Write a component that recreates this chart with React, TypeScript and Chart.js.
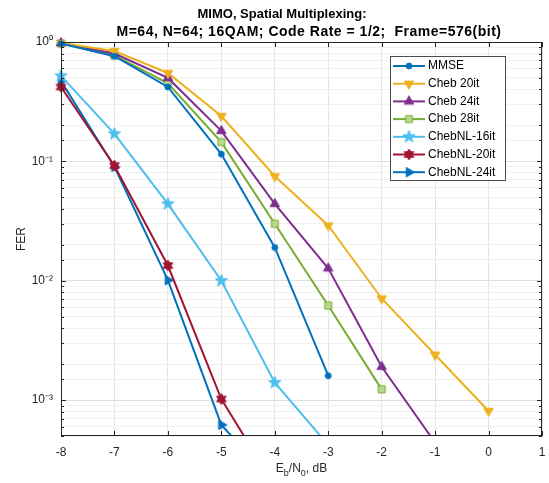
import React, { useEffect, useRef } from 'react';
import { Chart, registerables } from 'chart.js';

Chart.register(...registerables);

// ---------- data ----------
const ebn0 = [-8, -7, -6, -5, -4, -3, -2, -1, 0];
const xTicks = [-8, -7, -6, -5, -4, -3, -2, -1, 0, 1];

const mmse = [0.97, 0.76, 0.42, 0.115, 0.019, 0.0016];
const cheb20 = [0.98, 0.84, 0.55, 0.24, 0.075, 0.029, 0.0071, 0.0024, 0.00081];
const cheb24 = [0.98, 0.8, 0.5, 0.18, 0.044, 0.0127, 0.0019, 0.00044];
const cheb28 = [0.97, 0.77, 0.45, 0.145, 0.03, 0.0062, 0.00123];
const chebNL16 = [0.52, 0.17, 0.044, 0.01, 0.0014, 0.00042];
const chebNL20 = [0.42, 0.092, 0.0134, 0.00102, 0.00019];
const chebNL24 = [0.47, 0.09, 0.0101, 0.00062, 0.0002];

const seriesNames = ['MMSE', 'Cheb 20it', 'Cheb 24it', 'Cheb 28it', 'ChebNL-16it', 'ChebNL-20it', 'ChebNL-24it'];
const seriesValues = [mmse, cheb20, cheb24, cheb28, chebNL16, chebNL20, chebNL24];
const seriesColors = ['#0072BD', '#EDB120', '#7E2F8E', '#77AC30', '#4DBEEE', '#A2142F', '#0072BD'];
const seriesFills = ['#0072BD', '#EDB120', '#7E2F8E', '#B9D98F', '#4DBEEE', '#A2142F', '#0072BD'];
const seriesMarkers = ['circle', 'triDown', 'triUp', 'square', 'pentagram', 'hexagram', 'triRight'];
const markerSizes = [6, 10, 10, 7, 13, 11, 10];

const yMin = 5e-4;
const yMax = 1;
const decadeLabels: Record<string, string> = { '0': '10⁰', '-1': '10⁻¹', '-2': '10⁻²', '-3': '10⁻³' };

const titleLine1 = 'MIMO, Spatial Multiplexing:';
const titleLine2 = 'M=64, N=64; 16QAM; Code Rate = 1/2;  Frame=576(bit)';
const yTitle = 'FER';

const FONT = '"Liberation Sans", Arial, Helvetica, sans-serif';

function makeMarker(kind: string, fill: string, stroke: string, size: number): HTMLCanvasElement {
  const c = document.createElement('canvas');
  const s = Math.ceil(size + 4);
  c.width = s;
  c.height = s;
  const g = c.getContext('2d')!;
  const cx = s / 2;
  const cy = s / 2;
  const r = size / 2;
  g.beginPath();
  const poly = (n: number, rOut: number, rIn: number | null, a0: number) => {
    const count = rIn === null ? n : n * 2;
    for (let k = 0; k < count; k++) {
      const rr = rIn === null ? rOut : k % 2 === 0 ? rOut : rIn;
      const a = a0 + (k * 2 * Math.PI) / count;
      const px = cx + rr * Math.cos(a);
      const py = cy + rr * Math.sin(a);
      if (k === 0) g.moveTo(px, py);
      else g.lineTo(px, py);
    }
    g.closePath();
  };
  if (kind === 'circle') g.arc(cx, cy, r, 0, Math.PI * 2);
  else if (kind === 'square') g.rect(cx - r, cy - r, 2 * r, 2 * r);
  else if (kind === 'triUp') poly(3, r * 1.1, null, -Math.PI / 2);
  else if (kind === 'triDown') poly(3, r * 1.1, null, Math.PI / 2);
  else if (kind === 'triRight') poly(3, r * 1.1, null, 0);
  else if (kind === 'pentagram') poly(5, r, r * 0.4, -Math.PI / 2);
  else if (kind === 'hexagram') poly(6, r, r * 0.58, -Math.PI / 2);
  g.fillStyle = fill;
  g.fill();
  g.lineWidth = 1;
  g.strokeStyle = stroke;
  g.stroke();
  return c;
}

const isDecade = (v: number) => {
  const l = Math.log10(v);
  return Math.abs(l - Math.round(l)) < 1e-6;
};

const decorPlugin = {
  id: 'decor',
  afterDraw(chart: any) {
    const { ctx, chartArea: a, scales } = chart;
    const xs = scales.x;
    const ys = scales.y;
    const markers: HTMLCanvasElement[] = chart.$markers || [];
    ctx.save();
    // inner ticks
    ctx.strokeStyle = '#262626';
    ctx.lineWidth = 1;
    ctx.beginPath();
    xTicks.forEach((v) => {
      const px = Math.round(xs.getPixelForValue(v)) + 0.5;
      ctx.moveTo(px, a.bottom);
      ctx.lineTo(px, a.bottom - 5);
      ctx.moveTo(px, a.top);
      ctx.lineTo(px, a.top + 5);
    });
    ys.ticks.forEach((t: any) => {
      const len = isDecade(t.value) ? 5 : 3;
      const py = Math.round(ys.getPixelForValue(t.value)) + 0.5;
      ctx.moveTo(a.left, py);
      ctx.lineTo(a.left + len, py);
      ctx.moveTo(a.right, py);
      ctx.lineTo(a.right - len, py);
    });
    ctx.stroke();
    // box
    const l = Math.round(a.left) + 0.5;
    const t = Math.round(a.top) + 0.5;
    const r = Math.round(a.right) - 0.5;
    const b = Math.round(a.bottom) - 0.5;
    ctx.strokeRect(l, t, r - l, b - t);

    // titles
    ctx.fillStyle = '#000';
    ctx.textAlign = 'center';
    ctx.textBaseline = 'middle';
    ctx.font = 'bold 13px ' + FONT;
    ctx.fillText(titleLine1, 282, 14);
    ctx.save();
    ctx.font = 'bold 14px ' + FONT;
    try {
      (ctx as any).letterSpacing = '0.5px';
    } catch (e) {
      /* ignore */
    }
    ctx.fillText(titleLine2, 309, 32);
    ctx.restore();

    // y title
    ctx.fillStyle = '#262626';
    ctx.font = '12px ' + FONT;
    ctx.save();
    ctx.translate(22, (a.top + a.bottom) / 2);
    ctx.rotate(-Math.PI / 2);
    ctx.fillText(yTitle, 0, 0);
    ctx.restore();

    // x title with subscripts
    const parts: [string, number, number][] = [
      ['E', 0, 12],
      ['b', 3.5, 9],
      ['/N', 0, 12],
      ['0', 3.5, 9],
      [', dB', 0, 12],
    ];
    let total = 0;
    parts.forEach(([s, , fs]) => {
      ctx.font = fs + 'px ' + FONT;
      total += ctx.measureText(s).width;
    });
    let cx = (a.left + a.right) / 2 - total / 2;
    ctx.textAlign = 'left';
    ctx.textBaseline = 'alphabetic';
    parts.forEach(([s, dy, fs]) => {
      ctx.font = fs + 'px ' + FONT;
      ctx.fillText(s, cx, 472 + dy);
      cx += ctx.measureText(s).width;
    });

    // legend
    const lx = 390;
    const ly = 56;
    const lw = 116;
    const lh = 125;
    ctx.fillStyle = '#ffffff';
    ctx.fillRect(lx, ly, lw, lh);
    ctx.strokeStyle = '#4d4d4d';
    ctx.lineWidth = 1;
    ctx.strokeRect(lx + 0.5, ly + 0.5, lw - 1, lh - 1);
    ctx.font = '12px ' + FONT;
    ctx.textBaseline = 'middle';
    seriesNames.forEach((name, i) => {
      const yy = ly + 10 + i * 17.7;
      ctx.strokeStyle = seriesColors[i];
      ctx.lineWidth = 2;
      ctx.beginPath();
      ctx.moveTo(lx + 3, yy);
      ctx.lineTo(lx + 35, yy);
      ctx.stroke();
      const m = markers[i];
      if (m) ctx.drawImage(m, lx + 19 - m.width / 2, yy - m.height / 2);
      ctx.fillStyle = '#000';
      ctx.fillText(name, lx + 38, yy);
    });
    ctx.restore();
  },
};

export default function App() {
  const ref = useRef<HTMLCanvasElement | null>(null);
  useEffect(() => {
    if (!ref.current) return;
    const markers = seriesNames.map((_, i) =>
      makeMarker(seriesMarkers[i], seriesFills[i], seriesColors[i], markerSizes[i])
    );
    const datasets = seriesValues.map((vals, i) => ({
      label: seriesNames[i],
      data: vals.map((v, k) => ({ x: ebn0[k], y: v })),
      borderColor: seriesColors[i],
      backgroundColor: seriesFills[i],
      borderWidth: 2,
      pointStyle: markers[i] as any,
      pointRadius: 5,
      pointHoverRadius: 5,
      tension: 0,
      clip: { left: 12, top: 12, right: 12, bottom: 0 },
    }));
    const chart: any = new Chart(ref.current, {
      type: 'line',
      data: { datasets },
      options: {
        responsive: false,
        animation: false,
        layout: { padding: { left: 0, right: 6, top: 42, bottom: 0 } },
        plugins: {
          legend: { display: false },
          title: { display: false },
          tooltip: { enabled: false },
        },
        scales: {
          x: {
            type: 'linear',
            min: -8,
            max: 1,
            afterFit: (s: any) => {
              s.height = 47;
              s.paddingLeft = 0;
              s.paddingRight = 0;
            },
            afterBuildTicks: (s: any) => {
              s.ticks = xTicks.map((v) => ({ value: v }));
            },
            ticks: {
              color: '#262626',
              font: { family: FONT, size: 12 },
              padding: 9,
              maxRotation: 0,
              autoSkip: false,
              callback: (v: any) => String(v),
            },
            grid: { color: '#e3e3e3', drawTicks: false, lineWidth: 1 },
            border: { display: false },
          },
          y: {
            type: 'logarithmic',
            min: yMin,
            max: yMax,
            afterFit: (s: any) => {
              s.width = 61;
              s.paddingTop = 0;
              s.paddingBottom = 0;
            },
            ticks: {
              color: '#262626',
              font: { family: FONT, size: 12 },
              padding: 8,
              autoSkip: false,
              callback: (v: any) => {
                const n = Number(v);
                if (!isDecade(n)) return '';
                return decadeLabels[String(Math.round(Math.log10(n)))] || '';
              },
            },
            grid: {
              drawTicks: false,
              lineWidth: 1,
              color: (c: any) => (c.tick && isDecade(c.tick.value) ? '#e0e0e0' : '#f0f0f0'),
            },
            border: { display: false },
          },
        },
      },
      plugins: [decorPlugin],
    });
    chart.$markers = markers;
    chart.draw();
    return () => chart.destroy();
  }, []);
  return (
    <canvas
      ref={ref}
      width={549}
      height={483}
      style={{ position: 'fixed', left: 0, top: 0, width: 549, height: 483, display: 'block', background: '#fff' }}
    />
  );
}
